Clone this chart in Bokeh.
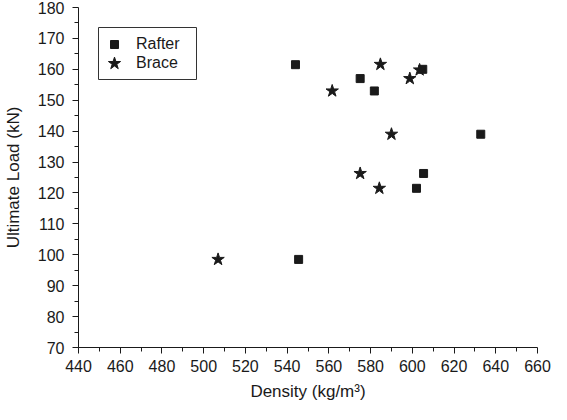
from bokeh.plotting import figure
from bokeh.models import Range1d, Legend, LegendItem, FixedTicker, BoxAnnotation
from bokeh.embed import file_html
from bokeh.resources import INLINE

# Data
rafter_density = [544, 575, 581.8, 605, 632.8, 605.4, 602, 545.5]
rafter_load = [161.5, 157, 153, 160, 139, 126.3, 121.5, 98.5]
brace_density = [506.9, 561.6, 584.7, 598.8, 603.5, 590, 575, 584.2]
brace_load = [98.5, 153, 161.6, 157, 159.8, 139, 126.3, 121.5]

x_ticks = [440, 460, 480, 500, 520, 540, 560, 580, 600, 620, 640, 660]
y_ticks = [70, 80, 90, 100, 110, 120, 130, 140, 150, 160, 170, 180]
x_minor = [450, 470, 490, 510, 530, 550, 570, 590, 610, 630, 650]
y_minor = [75, 85, 95, 105, 115, 125, 135, 145, 155, 165, 175]

FONT = "Liberation Sans"
INK = "#1a1a1a"
FRAME_H = 340

p = figure(width=551, height=404, output_backend="svg", toolbar_location=None,
           x_range=Range1d(440, 660), y_range=Range1d(70, 180),
           min_border_left=76, min_border_right=14, min_border_top=7, min_border_bottom=57)
p.outline_line_color = None
p.xgrid.visible = False
p.ygrid.visible = False
p.background_fill_color = "white"
p.border_fill_color = "white"

r1 = p.scatter(rafter_density, rafter_load, marker="square", size=8,
               fill_color=INK, line_color=INK)
r2 = p.scatter(brace_density, brace_load, marker="star", size=13,
               fill_color=INK, line_color=INK)

p.xaxis[0].ticker = FixedTicker(ticks=x_ticks, minor_ticks=x_minor)
p.yaxis[0].ticker = FixedTicker(ticks=y_ticks, minor_ticks=y_minor)
for ax in (p.xaxis[0], p.yaxis[0]):
    ax.major_tick_in = 0
    ax.major_tick_out = 6
    ax.minor_tick_in = 0
    ax.minor_tick_out = 4
    ax.axis_line_color = INK
    ax.major_tick_line_color = INK
    ax.minor_tick_line_color = INK
    ax.major_label_text_font = FONT
    ax.major_label_text_font_size = "16px"
    ax.major_label_text_color = INK
    ax.axis_label_text_font = FONT
    ax.axis_label_text_font_size = "17px"
    ax.axis_label_text_font_style = "normal"
    ax.axis_label_text_color = INK

p.xaxis[0].axis_label = "Density (kg/m³)"
p.yaxis[0].axis_label = "Ultimate Load (kN)"
p.xaxis[0].major_label_standoff = 6
p.xaxis[0].axis_label_standoff = 7
p.yaxis[0].major_label_standoff = 8
p.yaxis[0].axis_label_standoff = 12

# legend frame (screen units relative to the plot frame, y measured upward)
box = BoxAnnotation(left=20, right=118, top=FRAME_H - 20, bottom=FRAME_H - 72,
                    left_units="screen", right_units="screen",
                    top_units="screen", bottom_units="screen",
                    fill_color="white", fill_alpha=1.0,
                    line_color="#333333", line_width=1, line_alpha=1.0)
p.add_layout(box)


def make_legend(label, renderer, glyph, x_left, row_top, standoff):
    lg = Legend(items=[LegendItem(label=label, renderers=[renderer])],
                location=(x_left, FRAME_H - row_top - glyph))
    lg.border_line_color = None
    lg.background_fill_alpha = 0
    lg.padding = 0
    lg.margin = 0
    lg.spacing = 0
    lg.glyph_width = glyph
    lg.glyph_height = glyph
    lg.label_height = glyph
    lg.label_standoff = standoff
    lg.label_text_font = FONT
    lg.label_text_font_size = "16px"
    lg.label_text_color = INK
    return lg


# Rafter row centred ~37 px below frame top, Brace row ~56 px
p.add_layout(make_legend("Rafter", r1, 20, 26, 37 - 10, 12), "center")
p.add_layout(make_legend("Brace", r2, 32, 20, 56 - 16, 6), "center")

open("out.html", "w").write(file_html(p, INLINE))
